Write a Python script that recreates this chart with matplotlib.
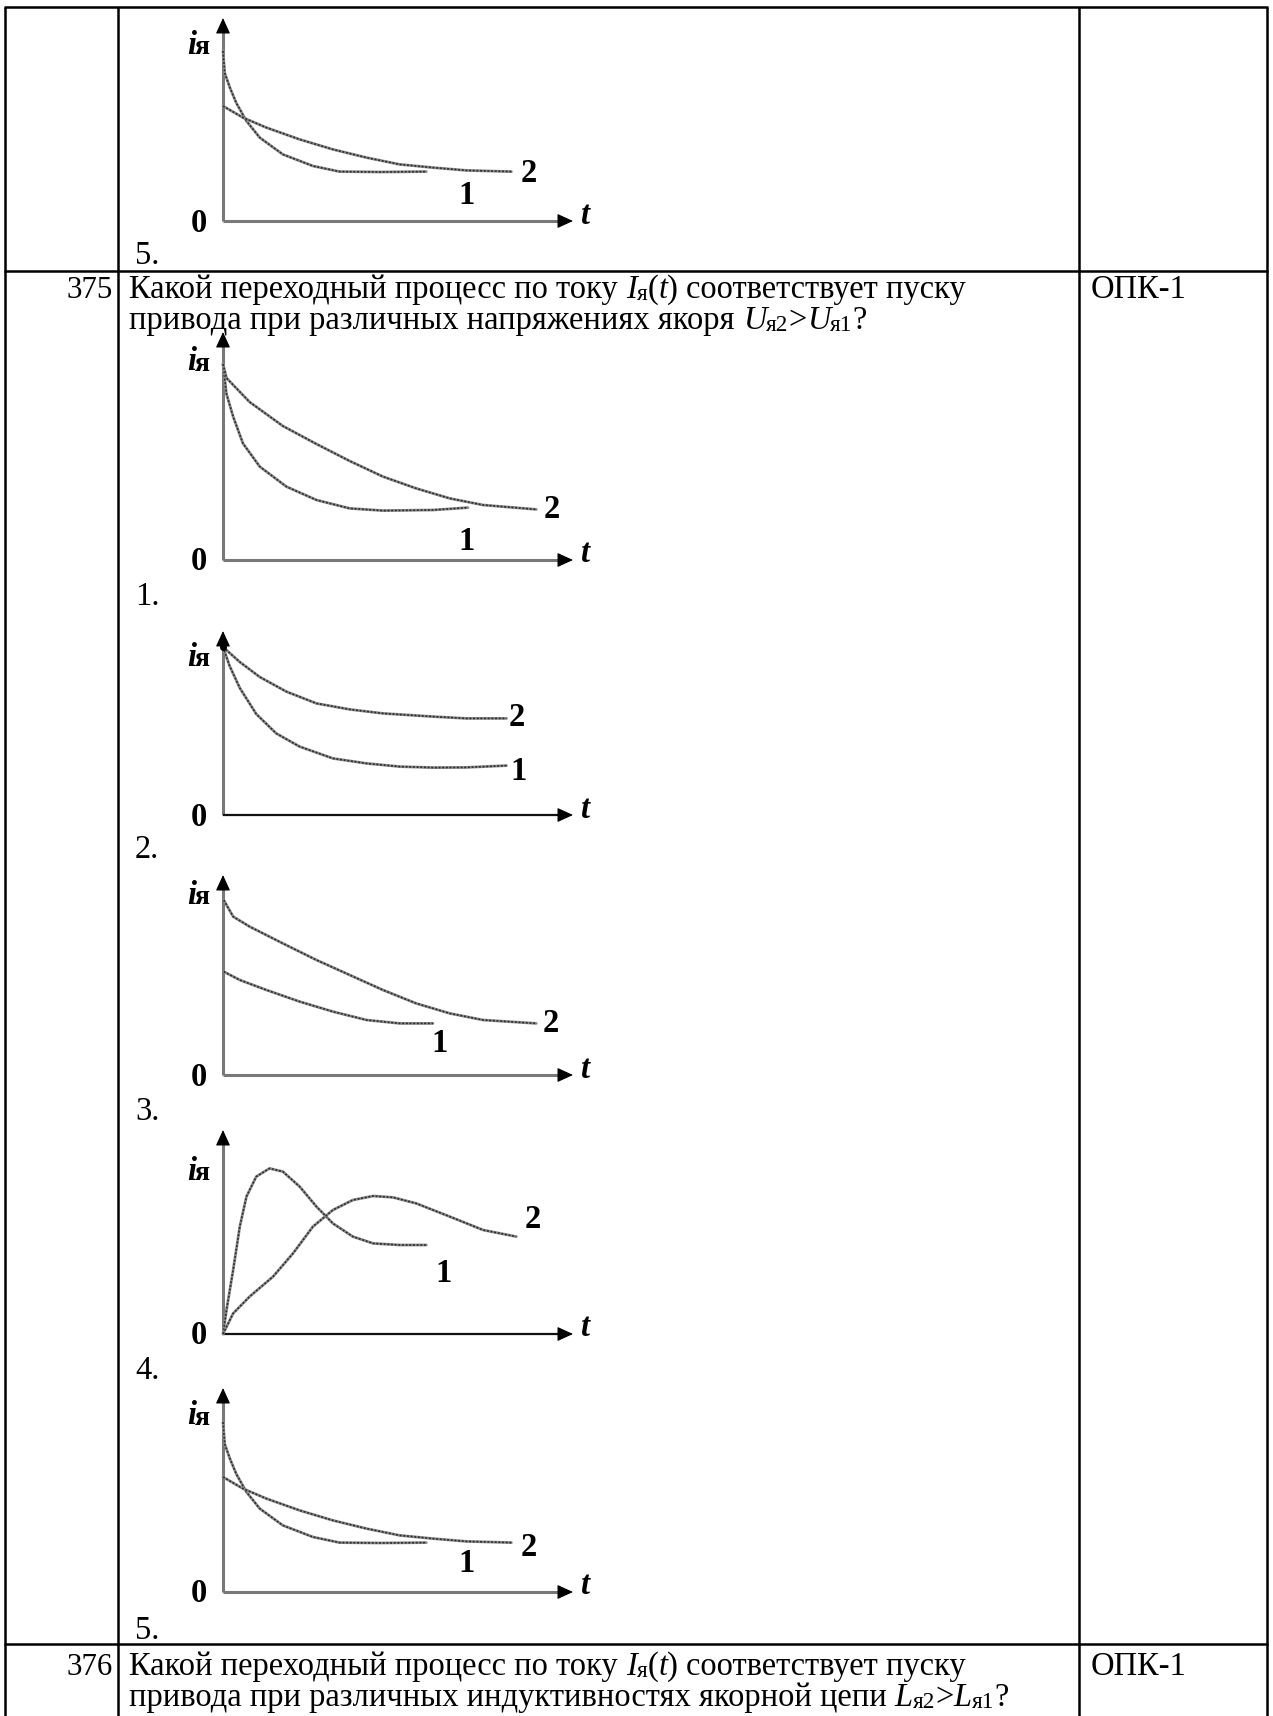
import matplotlib
matplotlib.use("Agg")
import matplotlib.pyplot as plt

# ---------------- data ----------------
# time axis 0..10 (full x-axis), current in units of 20 px above the origin
# answer 5 diagram (also the top, partially visible one)
c5_t1 = [0.0, 0.05, 0.19, 0.38, 0.67, 1.05, 1.71, 2.57, 3.33, 4.5, 5.81]
c5_i1 = [8.5, 7.4, 6.7, 5.9, 5.0, 4.17, 3.33, 2.75, 2.47, 2.45, 2.47]
c5_t2 = [0.0, 0.57, 1.24, 2.19, 3.14, 4.10, 5.05, 6.0, 6.95, 8.24]
c5_i2 = [5.75, 5.17, 4.67, 4.08, 3.58, 3.17, 2.83, 2.67, 2.53, 2.47]
# answer 1
c1_t1 = [0.0, 0.10, 0.29, 0.57, 1.05, 1.81, 2.67, 3.62, 4.57, 6.0, 7.0]
c1_i1 = [9.8, 8.3, 7.17, 5.83, 4.67, 3.67, 3.0, 2.58, 2.47, 2.5, 2.62]
c1_t2 = [0.0, 0.10, 0.76, 1.71, 2.67, 3.62, 4.57, 5.52, 6.48, 7.43, 8.95]
c1_i2 = [9.8, 9.1, 7.9, 6.7, 5.8, 4.95, 4.17, 3.58, 3.08, 2.75, 2.53]
# answer 2
c2_t1 = [0.0, 0.19, 0.48, 0.95, 1.52, 2.19, 3.14, 4.10, 5.05, 6.0, 6.95, 8.1]
c2_i1 = [8.4, 7.45, 6.35, 5.05, 4.08, 3.42, 2.83, 2.58, 2.42, 2.37, 2.38, 2.47]
c2_t2 = [0.0, 0.48, 1.05, 1.81, 2.67, 3.62, 4.57, 6.0, 6.95, 8.1]
c2_i2 = [8.4, 7.65, 6.9, 6.17, 5.58, 5.28, 5.08, 4.92, 4.83, 4.83]
# answer 3
c3_t1 = [0.02, 0.48, 1.24, 2.19, 3.14, 4.10, 5.05, 6.0]
c3_i1 = [5.17, 4.75, 4.25, 3.67, 3.17, 2.75, 2.58, 2.58]
c3_t2 = [0.02, 0.29, 0.76, 1.71, 2.67, 3.62, 4.57, 5.52, 6.48, 7.43, 8.95]
c3_i2 = [8.75, 7.92, 7.42, 6.58, 5.75, 5.0, 4.25, 3.58, 3.08, 2.75, 2.58]
# answer 4
c4_t1 = [0.0, 0.10, 0.29, 0.48, 0.67, 0.95, 1.33, 1.71, 2.19, 2.67, 3.14, 3.71, 4.29, 5.05, 5.81]
c4_i1 = [0.0, 1.2, 3.2, 5.37, 6.87, 7.87, 8.28, 8.12, 7.37, 6.37, 5.53, 4.87, 4.53, 4.45, 4.45]
c4_t2 = [0.0, 0.29, 0.76, 1.43, 2.0, 2.57, 3.14, 3.71, 4.29, 4.86, 5.52, 6.48, 7.43, 8.38]
c4_i2 = [0.0, 1.03, 1.87, 2.87, 4.03, 5.37, 6.2, 6.7, 6.9, 6.83, 6.53, 5.87, 5.2, 4.87]

answer_numbers = ["5.", "1.", "2.", "3.", "4.", "5."]
question_numbers = ["375", "376"]
competence = "ОПК-1"

# ---------------- figure ----------------
W, H = 1273, 1716
fig = plt.figure(figsize=(W / 100, H / 100), dpi=100)
bg = fig.add_axes([0, 0, 1, 1])
bg.set_xlim(0, W)
bg.set_ylim(H, 0)
bg.axis("off")
R = fig.canvas.get_renderer()
SERIF = "Liberation Serif"

# fit body font size to the measured width of the first question line
probe = bg.text(0, 0, "Какой переходный процесс по току Iя(t) соответствует пуску",
                fontsize=20, family=SERIF)
FS = 20 * 842 / probe.get_window_extent(renderer=R).width
probe.remove()

# ---------------- table grid ----------------
LW = 1.8
for x in (5, 118, 1079, 1267):
    bg.plot([x, x], [7, H + 5], color="black", lw=LW, solid_capstyle="butt")
for y in (7, 271, 1644):
    bg.plot([5 - 1, 1267 + 1], [y, y], color="black", lw=LW, solid_capstyle="butt")


def advance(txt, kw):
    a = bg.text(0, 0, txt + "|", **kw)
    b = bg.text(0, 0, "|", **kw)
    w = a.get_window_extent(renderer=R).width - b.get_window_extent(renderer=R).width
    a.remove()
    b.remove()
    return w


def rich(x, y, pieces):
    for txt, st in pieces:
        kw = dict(family=SERIF, fontsize=FS, va="baseline", ha="left", color="black")
        dy = 0
        if st == "i":
            kw["style"] = "italic"
        elif st == "s":
            kw["fontsize"] = FS * 0.72
            dy = 2
        bg.text(x, y + dy, txt, **kw)
        x += advance(txt, kw)
    return x


def question(b1, b2, num, line1, line2):
    bg.text(113, b1, num, family=SERIF, fontsize=FS * 0.95, ha="right", va="baseline")
    rich(129, b1, line1)
    rich(129, b2, line2)
    bg.text(1091, b1, competence, family=SERIF, fontsize=FS, ha="left", va="baseline")


question(298, 329, question_numbers[0],
         [("Какой переходный процесс по току ", "n"), ("I", "i"), ("я", "s"), ("(", "n"),
          ("t", "i"), (") соответствует пуску", "n")],
         [("привода при различных напряжениях якоря ", "n"), ("U", "i"), ("я2", "s"),
          (">", "n"), ("U", "i"), ("я1", "s"), ("?", "n")])
question(1675, 1706, question_numbers[1],
         [("Какой переходный процесс по току ", "n"), ("I", "i"), ("я", "s"), ("(", "n"),
          ("t", "i"), (") соответствует пуску", "n")],
         [("привода при различных индуктивностях якорной цепи ", "n"), ("L", "i"), ("я2", "s"),
          (">", "n"), ("L", "i"), ("я1", "s"), ("?", "n")])

# ---------------- diagrams ----------------
AX_GRAY = "#787878"
charts = [
    dict(oy=221, imax=10.15, curves=[(c5_t1, c5_i1), (c5_t2, c5_i2)], l1=(6.95, 1.3), l2=(8.75, 2.35),
         ilab=8.8, noff=43, xcol=AX_GRAY, dot=False),
    dict(oy=560, imax=11.4, curves=[(c1_t1, c1_i1), (c1_t2, c1_i2)], l1=(6.95, 0.9), l2=(9.4, 2.5),
         ilab=9.9, noff=45, xcol=AX_GRAY, dot=False),
    dict(oy=815, imax=9.2, curves=[(c2_t1, c2_i1), (c2_t2, c2_i2)], l1=(8.45, 2.2), l2=(8.4, 4.9),
         ilab=7.9, noff=43, xcol="#111111", dot=True),
    dict(oy=1075, imax=10.0, curves=[(c3_t1, c3_i1), (c3_t2, c3_i2)], l1=(6.2, 1.6), l2=(9.35, 2.6),
         ilab=9.0, noff=45, xcol=AX_GRAY, dot=False),
    dict(oy=1334, imax=10.2, curves=[(c4_t1, c4_i1), (c4_t2, c4_i2)], l1=(6.3, 3.0), l2=(8.85, 5.7),
         ilab=8.15, noff=45, xcol="#111111", dot=False),
    dict(oy=1592, imax=10.2, curves=[(c5_t1, c5_i1), (c5_t2, c5_i2)], l1=(6.95, 1.4), l2=(8.75, 2.2),
         ilab=8.8, noff=47, xcol=AX_GRAY, dot=False),
]

for num, c in zip(answer_numbers, charts):
    oy, imax = c["oy"], c["imax"]
    ax = fig.add_axes([223 / W, 1 - oy / H, 350 / W, imax * 20 / H])
    ax.set_xlim(0, 10)
    ax.set_ylim(0, imax)
    ax.axis("off")
    # axes with arrow heads
    ax.plot([0, 0], [0, imax - 0.4], color=AX_GRAY, lw=2.2, clip_on=False, solid_capstyle="butt")
    ax.plot([0, 9.75], [0, 0], color=c["xcol"], lw=2.2 if c["xcol"] == AX_GRAY else 1.6,
            clip_on=False, solid_capstyle="butt")
    head = dict(arrowstyle="-|>,head_length=0.7,head_width=0.32", color="black",
                lw=0.8, mutation_scale=14, shrinkA=0, shrinkB=0)
    ax.annotate("", xy=(0, imax), xytext=(0, imax - 0.7), arrowprops=head, annotation_clip=False)
    ax.annotate("", xy=(10, 0), xytext=(9.6, 0), arrowprops=head, annotation_clip=False)
    for t, i in c["curves"]:
        ax.plot(t, i, color="#8c8c8c", lw=2.0, clip_on=False, solid_capstyle="round",
                solid_joinstyle="round")
        ax.plot(t, i, color="#2e2e2e", lw=1.2, clip_on=False, linestyle=(0, (1.2, 1.0)))
    if c["dot"]:
        t0, i0 = c["curves"][0][0][0], c["curves"][0][1][0]
        ax.plot([t0], [i0], "o", color="black", ms=4, clip_on=False)
    # labels
    ax.text(c["l1"][0], c["l1"][1], "1", family=SERIF, fontsize=FS, fontweight="bold",
            ha="center", va="center")
    ax.text(c["l2"][0], c["l2"][1], "2", family=SERIF, fontsize=FS, fontweight="bold",
            ha="center", va="center")
    ax.text(-0.69, -0.1, "0", family=SERIF, fontsize=FS, fontweight="bold", ha="center", va="center")
    ax.text(10.2, 0.3, "t", family=SERIF, fontsize=FS, fontweight="bold", style="italic",
            ha="left", va="center")
    ax.text(-1.02, c["ilab"], "i", family=SERIF, fontsize=FS, fontweight="bold", style="italic",
            ha="left", va="center")
    ax.text(-0.8, c["ilab"] - 0.12, "я", family=SERIF, fontsize=FS * 0.85, fontweight="bold",
            ha="left", va="center")
    # answer number
    bg.text(135, oy + c["noff"], num, family=SERIF, fontsize=FS, ha="left", va="baseline")

fig.savefig("out.png", dpi=100, facecolor="white")
